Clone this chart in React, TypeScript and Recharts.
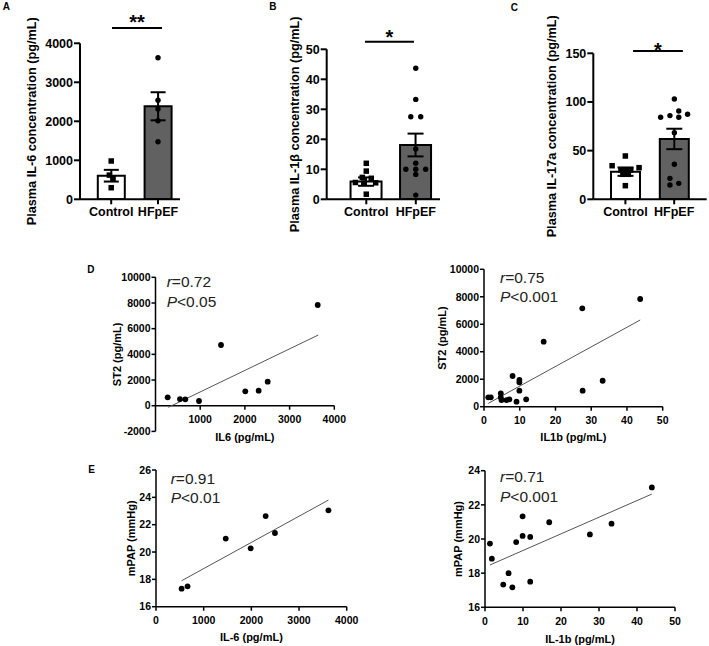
import React from 'react';
import {
  ComposedChart,
  ScatterChart,
  Bar,
  Cell,
  Scatter,
  XAxis,
  YAxis,
  ErrorBar,
  ReferenceLine,
} from 'recharts';

const W = 709;
const H = 646;
const FONT = "'Liberation Sans', Arial, Helvetica, sans-serif";

// ---------------- data ----------------
const categories = ['Control', 'HFpEF'];
const categoryX = [1, 2];

// Panel A: plasma IL-6 (pg/mL)
const il6Mean = [605, 2385];
const il6Sem = [150, 360];
const il6Control = [982, 620, 530, 297];
const il6ControlJitter = [0, -0.04, 0.04, 0];
const il6Hfpef = [3631, 2542, 2315, 2015, 1477];
const il6HfpefJitter = [0, 0, 0, 0, 0];
const il6Ticks = [0, 1000, 2000, 3000, 4000];

// Panel B: plasma IL-1β (pg/mL)
const il1bMean = [5.9, 18.1];
const il1bSem = [1.4, 3.8];
const il1bControl = [12.0, 9.4, 7.3, 7.0, 5.6, 5.4, 5.5, 1.7];
const il1bControlJitter = [0, 0, -0.08, 0.1, -0.22, -0.05, 0.19, 0];
const il1bHfpef = [43.7, 33.3, 27.5, 27.5, 16.8, 12.0, 10.0, 10.0, 10.0, 8.3, 1.4];
const il1bHfpefJitter = [0, 0, -0.1, 0.1, 0, 0, -0.2, 0, 0.2, 0, 0];
const il1bTicks = [0, 10, 20, 30, 40, 50];

// Panel C: plasma IL-17a (pg/mL)
const il17Mean = [28.4, 62];
const il17Sem = [4.3, 10.5];
const il17Control = [44.5, 34.5, 32.5, 30.1, 30.1, 30.1, 25.7, 25.7, 14];
const il17ControlJitter = [0, -0.27, 0.28, -0.09, 0, 0.11, -0.05, 0.06, 0];
const il17Hfpef = [103, 84.3, 86, 90.7, 84.3, 87.4, 68.4, 36, 21.5, 16.4, 14.7];
const il17HfpefJitter = [0, -0.28, -0.09, 0.09, 0.09, 0.27, 0, 0, -0.09, 0.09, -0.09];
const il17Ticks = [0, 50, 100, 150];

// Panel D left: IL6 vs ST2
const dIl6X = [273, 548, 667, 973, 1465, 2009, 2308, 2510, 3629];
const dSt2Y = [653, 520, 497, 366, 4727, 1120, 1170, 1870, 7843];
const dIl6FitX = [286, 3642];
const dIl6FitY = [-125, 5506];
const dIl6XTicks = [1000, 2000, 3000, 4000];
const dSt2YTicks = [-2000, 0, 2000, 4000, 6000, 8000, 10000];

// Panel D right: IL1b vs ST2
const dIl1bX = [1.2, 1.9, 4.7, 4.7, 4.9, 6.3, 7.1, 8.0, 9.1, 9.9, 9.9, 9.9, 11.8, 16.7, 27.5, 27.6, 33.2, 43.7];
const dIl1bSt2Y = [680, 680, 970, 680, 485, 485, 534, 2233, 364, 1942, 1772, 1165, 534, 4730, 7160, 1165, 1890, 7840];
const dIl1bFitX = [1.2, 43.7];
const dIl1bFitY = [243, 6310];
const il1bXTicks = [0, 10, 20, 30, 40, 50];
const st2YTicks = [0, 2000, 4000, 6000, 8000, 10000];

// Panel E left: IL-6 vs mPAP
const eIl6X = [537, 662, 1463, 1986, 2300, 2495, 3617];
const eMpapY = [17.32, 17.49, 20.98, 20.27, 22.63, 21.39, 23.05];
const eIl6FitX = [537, 3617];
const eIl6FitY = [17.9, 23.8];
const eIl6XTicks = [0, 1000, 2000, 3000, 4000];
const eMpapYTicks = [16, 18, 20, 22, 24, 26];

// Panel E right: IL-1b vs mPAP
const eIl1bX = [1.3, 1.8, 4.8, 6.2, 7.2, 8.2, 9.9, 9.9, 11.9, 11.9, 16.9, 27.6, 33.3, 43.9];
const eIl1bMpapY = [19.73, 18.85, 17.33, 18.0, 17.17, 19.82, 21.33, 20.18, 20.12, 17.5, 20.98, 20.27, 20.9, 23.02];
const eIl1bFitX = [1.3, 43.9];
const eIl1bFitY = [18.48, 22.63];
const eIl1bYTicks = [16, 18, 20, 22, 24];

// ---------------- panel layout ----------------
const barPanels = [
  {
    means: il6Mean, sems: il6Sem, ctrl: il6Control, ctrlJ: il6ControlJitter, hf: il6Hfpef, hfJ: il6HfpefJitter,
    yDomain: [0, 4000], yTicks: il6Ticks, xDomain: [0.333, 2.47], catPad: { left: 7.8, right: -1.4 },
    plot: { l: 80, r: 180, t: 43.3, b: 199.3 }, barSize: 27, capW: 7.5,
    title: 'Plasma IL-6 concentration (pg/mL)', titleGap: 48,
    sig: { x1: 1.017, x2: 2.085, y: 4392, text: '**', dy: 0.5 },
  },
  {
    means: il1bMean, sems: il1bSem, ctrl: il1bControl, ctrlJ: il1bControlJitter, hf: il1bHfpef, hfJ: il1bHfpefJitter,
    yDomain: [0, 50], yTicks: il1bTicks, xDomain: [0.2, 2.49], catPad: { left: 14.85, right: -0.55 },
    plot: { l: 326.7, r: 440, t: 49.3, b: 199.3 }, barSize: 31, capW: 8,
    title: 'Plasma IL-1β concentration (pg/mL)', titleGap: 32,
    sig: { x1: 0.974, x2: 1.964, y: 52.53, text: '*', dy: 2.5 },
  },
  {
    means: il17Mean, sems: il17Sem, ctrl: il17Control, ctrlJ: il17ControlJitter, hf: il17Hfpef, hfJ: il17HfpefJitter,
    yDomain: [0, 150], yTicks: il17Ticks, xDomain: [0.346, 2.66], catPad: { left: 7.7, right: 8.1 },
    plot: { l: 593.3, r: 706.7, t: 53.3, b: 199.3 }, barSize: 29, capW: 8,
    title: 'Plasma IL-17a concentration (pg/mL)', titleGap: 41.5,
    sig: { x1: 1.157, x2: 2.174, y: 152.4, text: '*', dy: 6.3 },
  },
];

const scatterPanels = [
  {
    xs: dIl6X, ys: dSt2Y, fitX: dIl6FitX, fitY: dIl6FitY,
    xDomain: [0, 4000], yDomain: [-2000, 10000], xTicks: dIl6XTicks, yTicks: dSt2YTicks, xCross: 0,
    plot: { l: 155.5, r: 334.3, t: 277.3, b: 431.4 },
    xTitle: 'IL6 (pg/mL)', xTitleDy: 5.6, yTitle: 'ST2 (pg/mL)', yTitleGap: 38.5,
  },
  {
    xs: dIl1bX, ys: dIl1bSt2Y, fitX: dIl1bFitX, fitY: dIl1bFitY,
    xDomain: [0, 50], yDomain: [0, 10000], xTicks: il1bXTicks, yTicks: st2YTicks, xCross: null,
    plot: { l: 484, r: 662.7, t: 269.3, b: 406.7 },
    xTitle: 'IL1b (pg/mL)', xTitleDy: 30.3, yTitle: 'ST2 (pg/mL)', yTitleGap: 42.3,
  },
  {
    xs: eIl6X, ys: eMpapY, fitX: eIl6FitX, fitY: eIl6FitY,
    xDomain: [0, 4000], yDomain: [16, 26], xTicks: eIl6XTicks, yTicks: eMpapYTicks, xCross: null,
    plot: { l: 156, r: 346.7, t: 470, b: 606.7 },
    xTitle: 'IL-6 (pg/mL)', xTitleDy: 30.6, yTitle: 'mPAP (mmHg)', yTitleGap: 25,
  },
  {
    xs: eIl1bX, ys: eIl1bMpapY, fitX: eIl1bFitX, fitY: eIl1bFitY,
    xDomain: [0, 50], yDomain: [16, 24], xTicks: il1bXTicks, yTicks: eIl1bYTicks, xCross: null,
    plot: { l: 485, r: 675, t: 470.7, b: 607.3 },
    xTitle: 'IL-1b (pg/mL)', xTitleDy: 32, yTitle: 'mPAP (mmHg)', yTitleGap: 27,
  },
];

const panelLetters = [
  { t: 'A', x: 2.7, y: 10 },
  { t: 'B', x: 269.3, y: 10 },
  { t: 'C', x: 510.7, y: 10.7 },
  { t: 'D', x: 87.3, y: 273.3 },
  { t: 'E', x: 88.3, y: 473.3 },
];

const stats = [
  { r: '0.72', p: 'P<0.05', x: 166.7, y: 287.1 },
  { r: '0.75', p: 'P<0.001', x: 500, y: 282.7 },
  { r: '0.91', p: 'P<0.01', x: 170.7, y: 483.7 },
  { r: '0.71', p: 'P<0.001', x: 500, y: 482.1 },
];

// ---------------- shapes & labels ----------------
const SquareShape = (props: any) => (
  <rect x={props.cx - 2.75} y={props.cy - 2.75} width={5.5} height={5.5} fill="#000" />
);
const BarDot = (props: any) => <circle cx={props.cx} cy={props.cy} r={2.7} fill="#000" />;
const ScatDot = (props: any) => <circle cx={props.cx} cy={props.cy} r={2.9} fill="#000" />;
const NoShape = () => <g />;

const RotTitle = ({ viewBox, text, gap, size }: any) => {
  if (!viewBox) return null;
  const cx = viewBox.x + viewBox.width - gap;
  const cy = viewBox.y + viewBox.height / 2;
  return (
    <text
      x={cx}
      y={cy}
      transform={`rotate(-90, ${cx}, ${cy})`}
      textAnchor="middle"
      dominantBaseline="central"
      fontFamily={FONT}
      fontWeight={700}
      fontSize={size}
      fill="#000"
    >
      {text}
    </text>
  );
};

const XTitle = ({ viewBox, text, dy }: any) => {
  if (!viewBox) return null;
  return (
    <text
      x={viewBox.x + viewBox.width / 2}
      y={viewBox.y + dy}
      textAnchor="middle"
      dominantBaseline="central"
      fontFamily={FONT}
      fontWeight={700}
      fontSize={11}
      fill="#000"
    >
      {text}
    </text>
  );
};

const StarLabel = ({ viewBox, text, dy }: any) => {
  if (!viewBox) return null;
  return (
    <text
      x={viewBox.x + viewBox.width / 2}
      y={viewBox.y + dy}
      textAnchor="middle"
      fontFamily={FONT}
      fontWeight={700}
      fontSize={20}
      fill="#000"
    >
      {text}
    </text>
  );
};

const ScatterXTick = ({ x, y, payload, shift }: any) => {
  const y0 = y - shift;
  return (
    <g>
      <line x1={x} x2={x} y1={y0} y2={y0 + 4} stroke="#000" strokeWidth={1.5} />
      <text
        x={x}
        y={y0 + 10.3}
        dy="0.71em"
        textAnchor="middle"
        fontFamily={FONT}
        fontWeight={700}
        fontSize={10.5}
        fill="#000"
      >
        {payload.value}
      </text>
    </g>
  );
};

// ---------------- panels ----------------
const BarPanel = ({ p }: any) => {
  const YW = 50;
  const XH = 30;
  const margin = { left: p.plot.l - YW, right: W - p.plot.r, top: p.plot.t, bottom: H - p.plot.b - XH };
  const barData = categories.map((name, i) => ({ name, mean: p.means[i], sem: p.sems[i] }));
  const ctrlPts = p.ctrl.map((y: number, i: number) => ({ x: categoryX[0] + p.ctrlJ[i], y }));
  const hfPts = p.hf.map((y: number, i: number) => ({ x: categoryX[1] + p.hfJ[i], y }));
  const tickStyle = { fill: '#000', fontSize: 12.5, fontWeight: 700, fontFamily: FONT };
  return (
    <div style={{ position: 'absolute', left: 0, top: 0 }}>
      <ComposedChart width={W} height={H} margin={margin} data={barData}>
        <XAxis
          xAxisId="cat"
          type="category"
          dataKey="name"
          padding={p.catPad}
          height={XH}
          axisLine={{ stroke: '#000', strokeWidth: 2 }}
          tickLine={{ stroke: '#000', strokeWidth: 2 }}
          tickSize={5}
          tickMargin={3}
          tick={tickStyle}
          interval={0}
        />
        <XAxis xAxisId="num" type="number" dataKey="x" domain={p.xDomain} hide allowDataOverflow />
        <YAxis
          type="number"
          domain={p.yDomain}
          ticks={p.yTicks}
          width={YW}
          axisLine={{ stroke: '#000', strokeWidth: 2 }}
          tickLine={{ stroke: '#000', strokeWidth: 2 }}
          tickSize={6}
          tickMargin={1}
          tick={tickStyle}
          interval={0}
          allowDataOverflow
          label={(lp: any) => <RotTitle viewBox={lp.viewBox} text={p.title} gap={p.titleGap} size={12.7} />}
        />
        <Bar xAxisId="cat" dataKey="mean" barSize={p.barSize} stroke="#000" strokeWidth={2} isAnimationActive={false}>
          <Cell fill="#ffffff" />
          <Cell fill="#616161" />
          <ErrorBar dataKey="sem" width={p.capW} stroke="#000" strokeWidth={2} direction="y" isAnimationActive={false} />
        </Bar>
        <Scatter xAxisId="num" data={ctrlPts} dataKey="y" shape={SquareShape} isAnimationActive={false} />
        <Scatter xAxisId="num" data={hfPts} dataKey="y" shape={BarDot} isAnimationActive={false} />
        <ReferenceLine
          xAxisId="num"
          segment={[{ x: p.sig.x1, y: p.sig.y }, { x: p.sig.x2, y: p.sig.y }]}
          stroke="#000"
          strokeWidth={2}
          ifOverflow="visible"
          label={(lp: any) => <StarLabel viewBox={lp.viewBox} text={p.sig.text} dy={p.sig.dy} />}
        />
      </ComposedChart>
    </div>
  );
};

const ScatterPanel = ({ p }: any) => {
  const YW = 50;
  const XH = 40;
  const margin = { left: p.plot.l - YW, right: W - p.plot.r, top: p.plot.t, bottom: H - p.plot.b - XH };
  const pts = p.xs.map((x: number, i: number) => ({ x, y: p.ys[i] }));
  const fit = p.fitX.map((x: number, i: number) => ({ x, y: p.fitY[i] }));
  const crosses = p.xCross !== null && p.xCross !== undefined;
  const shift = crosses
    ? ((p.plot.b - p.plot.t) * (p.xCross - p.yDomain[0])) / (p.yDomain[1] - p.yDomain[0])
    : 0;
  const axisStyle = { stroke: '#000', strokeWidth: 1.5 };
  return (
    <div style={{ position: 'absolute', left: 0, top: 0 }}>
      <ScatterChart width={W} height={H} margin={margin}>
        <XAxis
          type="number"
          dataKey="x"
          domain={p.xDomain}
          ticks={p.xTicks}
          height={XH}
          axisLine={crosses ? false : axisStyle}
          tickLine={false}
          tickSize={0}
          tickMargin={0}
          interval={0}
          tick={(tp: any) => <ScatterXTick {...tp} shift={shift} />}
          allowDataOverflow
          label={(lp: any) => <XTitle viewBox={lp.viewBox} text={p.xTitle} dy={p.xTitleDy} />}
        />
        <YAxis
          type="number"
          dataKey="y"
          domain={p.yDomain}
          ticks={p.yTicks}
          width={YW}
          axisLine={axisStyle}
          tickLine={axisStyle}
          tickSize={4}
          tickMargin={1}
          interval={0}
          tick={{ fill: '#000', fontSize: 10.5, fontWeight: 700, fontFamily: FONT }}
          allowDataOverflow
          label={(lp: any) => <RotTitle viewBox={lp.viewBox} text={p.yTitle} gap={p.yTitleGap} size={11} />}
        />
        {crosses ? <ReferenceLine y={p.xCross} stroke="#000" strokeWidth={1.5} /> : null}
        <Scatter data={fit} line={{ stroke: '#555', strokeWidth: 1 }} shape={NoShape} isAnimationActive={false} />
        <Scatter data={pts} shape={ScatDot} isAnimationActive={false} />
      </ScatterChart>
    </div>
  );
};

export default function App() {
  return (
    <div style={{ position: 'absolute', left: 0, top: 0, width: W, height: H, background: '#fff', overflow: 'hidden' }}>
      {barPanels.map((p, i) => (
        <BarPanel key={`b${i}`} p={p} />
      ))}
      {scatterPanels.map((p, i) => (
        <ScatterPanel key={`s${i}`} p={p} />
      ))}
      <svg width={W} height={H} style={{ position: 'absolute', left: 0, top: 0, pointerEvents: 'none' }}>
        {panelLetters.map((l) => (
          <text key={l.t} x={l.x} y={l.y} fontFamily={FONT} fontWeight={700} fontSize={10} fill="#000">
            {l.t}
          </text>
        ))}
        {stats.map((s, i) => (
          <g key={`st${i}`} fontFamily={FONT} fontSize={15.5} fill="#222">
            <text x={s.x} y={s.y}>
              <tspan fontStyle="italic">r</tspan>={s.r}
            </text>
            <text x={s.x} y={s.y + 19.4}>
              <tspan fontStyle="italic">P</tspan>
              {s.p.slice(1)}
            </text>
          </g>
        ))}
      </svg>
    </div>
  );
}
